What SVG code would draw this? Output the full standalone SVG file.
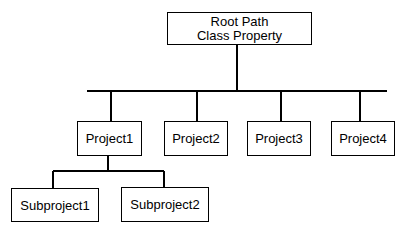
<svg xmlns="http://www.w3.org/2000/svg" width="408" height="232" viewBox="0 0 408 232">
<style>
.box{fill:#fff;stroke:#000;stroke-width:1}
.t{font-family:"Liberation Sans",Arial,sans-serif;font-size:13px;fill:#000;text-anchor:middle}
.c{stroke:#000;stroke-width:2;fill:none}
</style>
<rect width="408" height="232" fill="#fff"/>
<g id="connectors">
<path class="c" d="M237 44V91M87 91H387M111 91V121M197 91V121M281 91V121M360 91V121M108 155V171M53 171H164M53 171V188M164 171V187"/>
</g>
<g id="root"><rect class="box" x="167.5" y="12.5" width="144" height="32"/><text class="t" x="239.5" y="25.5">Root Path</text><text class="t" x="239.5" y="39.5">Class Property</text></g>
<g id="project1"><rect class="box" x="77.5" y="121.5" width="64" height="34"/><text class="t" x="109.5" y="142.5">Project1</text></g>
<g id="project2"><rect class="box" x="164.5" y="121.5" width="63" height="34"/><text class="t" x="196" y="142.5">Project2</text></g>
<g id="project3"><rect class="box" x="247.5" y="121.5" width="63" height="34"/><text class="t" x="279" y="142.5">Project3</text></g>
<g id="project4"><rect class="box" x="331.5" y="121.5" width="63" height="34"/><text class="t" x="363" y="142.5">Project4</text></g>
<g id="subproject1"><rect class="box" x="11.5" y="188.5" width="87" height="33"/><text class="t" x="55" y="209.5">Subproject1</text></g>
<g id="subproject2"><rect class="box" x="121.5" y="187.5" width="87" height="34"/><text class="t" x="165" y="208.5">Subproject2</text></g>
</svg>
